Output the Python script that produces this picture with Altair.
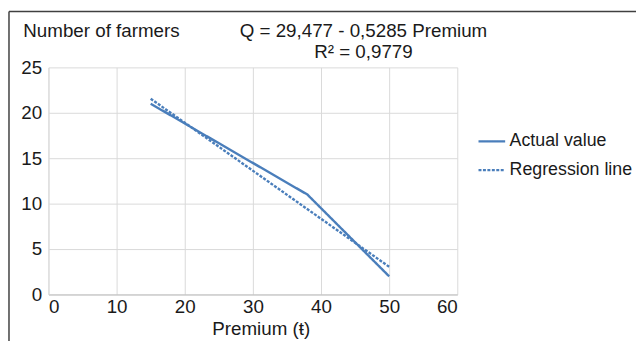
import altair as alt
import pandas as pd

# Data
premium = [15, 38, 50]
farmers = [21, 11, 2]
reg_premium = [15, 50]
reg_farmers = [21.55, 3.05]
series_names = ["Actual value", "Regression line"]
x_ticks = [0, 10, 20, 30, 40, 50, 60]
y_ticks = [0, 5, 10, 15, 20, 25]
equation_lines = ["Q = 29,477 - 0,5285 Premium", "R² = 0,9779"]

BLUE = "#4a7ebb"
FONT = "Liberation Sans"
FS = 19

df = pd.DataFrame(
    {
        "series": [series_names[0]] * len(premium) + [series_names[1]] * len(reg_premium),
        "premium": premium + reg_premium,
        "farmers": farmers + reg_farmers,
    }
)

lines = alt.Chart(df).mark_line(strokeWidth=2.4).encode(
    x=alt.X(
        "premium:Q",
        scale=alt.Scale(domain=[0, 60], nice=False),
        axis=alt.Axis(
            values=x_ticks,
            title="Premium (ŧ)",
            ticks=False,
            labelPadding=3,
            titlePadding=4,
            titleX=215,
            domainColor="#bfbfbf",
            gridColor="#d9d9d9",
        ),
    ),
    y=alt.Y(
        "farmers:Q",
        scale=alt.Scale(domain=[0, 25], nice=False),
        axis=alt.Axis(
            values=y_ticks,
            title="Number of farmers",
            ticks=False,
            labelPadding=7,
            titleAngle=0,
            titleAlign="left",
            titleBaseline="alphabetic",
            titleX=-26,
            titleY=-31,
            domainColor="#d9d9d9",
            gridColor="#d9d9d9",
        ),
    ),
    color=alt.Color(
        "series:N",
        scale=alt.Scale(domain=series_names, range=[BLUE, BLUE]),
        legend=alt.Legend(
            title=None,
            orient="none",
            legendX=434,
            legendY=60,
            symbolType="stroke",
            symbolSize=729,
            symbolStrokeWidth=2.4,
            labelFontSize=18,
            labelFont=FONT,
            labelColor="#1a1a1a",
            labelOffset=3,
            rowPadding=5,
            padding=0,
            labelLimit=300,
        ),
    ),
    strokeDash=alt.StrokeDash(
        "series:N",
        scale=alt.Scale(domain=series_names, range=[[1, 0], [3, 1.5]]),
        legend=alt.Legend(title=None),
    ),
)

eq_df = pd.DataFrame({"line": equation_lines, "idx": [0, 1]})
eq1 = alt.Chart(eq_df.iloc[[0]]).mark_text(
    fontSize=FS, font=FONT, color="#1a1a1a", align="center", baseline="alphabetic"
).encode(text="line:N", x=alt.value(319), y=alt.value(-31))
eq2 = alt.Chart(eq_df.iloc[[1]]).mark_text(
    fontSize=FS, font=FONT, color="#1a1a1a", align="center", baseline="alphabetic"
).encode(text="line:N", x=alt.value(319), y=alt.value(-10))

frame_top = alt.Chart(eq_df.iloc[[0]]).mark_rule(
    stroke="#404040", strokeWidth=1.5
).encode(x=alt.value(-40), x2=alt.value(595), y=alt.value(-56.5))
frame_left = alt.Chart(eq_df.iloc[[0]]).mark_rule(
    stroke="#404040", strokeWidth=1.5
).encode(x=alt.value(-40), y=alt.value(-56.5), y2=alt.value(277))

chart = (
    alt.layer(frame_top, frame_left, lines, eq1, eq2)
    .properties(
        width=414,
        height=230,
        autosize=alt.AutoSizeParams(type="none"),
        padding={"left": 41, "top": 58, "right": 181, "bottom": 47},
    )
    .configure(font=FONT)
    .configure_view(stroke=None)
    .configure_axis(
        labelFontSize=FS,
        titleFontSize=FS,
        titleFontWeight="normal",
        labelColor="#1a1a1a",
        titleColor="#1a1a1a",
        labelFont=FONT,
        titleFont=FONT,
    )
)

chart.save("out.html", embed_options={"renderer": "svg", "actions": False})
